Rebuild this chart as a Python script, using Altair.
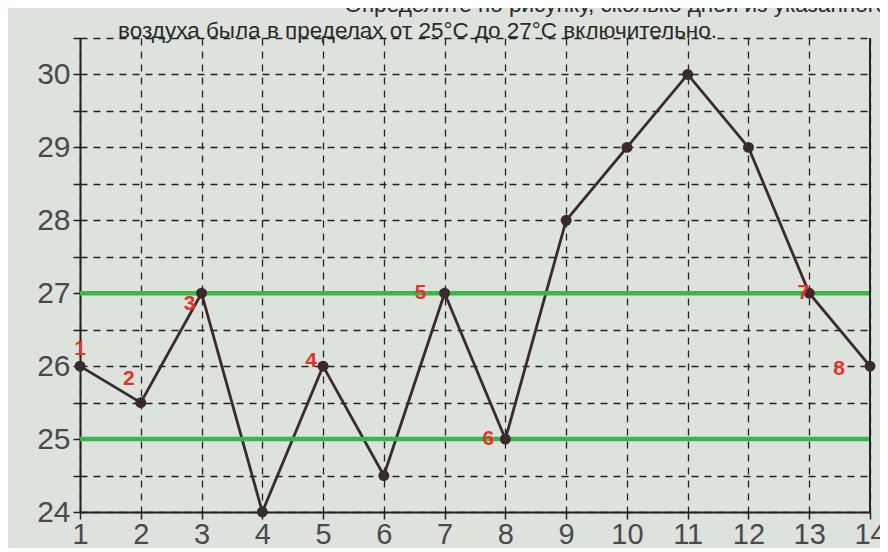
import altair as alt
import pandas as pd

# ---- data ----
days = [1, 2, 3, 4, 5, 6, 7, 8, 9, 10, 11, 12, 13, 14]
temps = [26, 25.5, 27, 24, 26, 24.5, 27, 25, 28, 29, 30, 29, 27, 26]
band_levels = [25, 27]
mark_numbers = ["1", "2", "3", "4", "5", "6", "7", "8"]
mark_days = [1, 2, 3, 5, 7, 8, 13, 14]
x_tick_values = [1, 2, 3, 4, 5, 6, 7, 8, 9, 10, 11, 12, 13, 14]
y_grid_values = [24, 24.5, 25, 25.5, 26, 26.5, 27, 27.5, 28, 28.5, 29, 29.5, 30, 30.5]
caption_line1 = "Определите по рисунку, сколько дней из указанного"
caption_line2 = "воздуха была в пределах от 25°C до 27°C включительно."

# ---- styles ----
BG = "#dde2dd"
INK = "#222222"
LINE = "#3a2a2c"
GREEN = "#3cb54a"
RED = "#e5332a"
FONT = "Liberation Sans Narrow, Liberation Sans, sans-serif"
label_offsets = [(0, -17), (-12, -24), (-12, 11), (-12, -5), (-24, 0), (-17, 0), (-6, 0), (-31, 3)]

W, H = 790, 474

df = pd.DataFrame({"day": days, "temp": temps})
temp_of = dict(zip(days, temps))
df_marks = pd.DataFrame({
    "day": mark_days,
    "temp": [temp_of[d] for d in mark_days],
    "num": mark_numbers,
})
df_bands = pd.DataFrame({"temp": band_levels})
df_right = pd.DataFrame({"day": [x_tick_values[-1]]})

xscale = alt.Scale(domain=[1, 14], nice=False, zero=False)
yscale = alt.Scale(domain=[24, 30.5], nice=False, zero=False)

x_axis = alt.Axis(
    values=x_tick_values, grid=True, gridDash=[7, 6], gridColor=INK, gridWidth=1.3,
    domainColor=INK, domainWidth=2, tickColor=INK, tickWidth=1.5, tickSize=7,
    labelFontSize=29, labelColor="#4a4a4a", labelFont=FONT, labelPadding=1,
    format="d", title=None, labelFlush=False,
)
y_axis = alt.Axis(
    values=y_grid_values, grid=True, gridDash=[7, 6], gridColor=INK, gridWidth=1.3,
    domainColor=INK, domainWidth=2, tickColor=INK, tickWidth=1.5, tickSize=7,
    labelFontSize=30, labelColor="#4a4a4a", labelFont=FONT, labelPadding=3,
    labelExpr="datum.value % 1 === 0 ? format(datum.value, 'd') : ''",
    title=None, labelFlush=False,
)

X = alt.X("day:Q", scale=xscale, axis=x_axis)
Y = alt.Y("temp:Q", scale=yscale, axis=y_axis)

line = alt.Chart(df).mark_line(color=LINE, strokeWidth=2.8).encode(x=X, y=Y)
points = alt.Chart(df).mark_circle(color=LINE, size=120, opacity=1).encode(x=X, y=Y)
bands = alt.Chart(df_bands).mark_rule(color=GREEN, strokeWidth=4.5).encode(y=Y)
right_border = alt.Chart(df_right).mark_rule(color=INK, strokeWidth=2).encode(x=X)

labels = []
for i, (dx, dy) in enumerate(label_offsets):
    labels.append(
        alt.Chart(df_marks.iloc[[i]]).mark_text(
            color=RED, fontSize=21, fontWeight="bold", font="Liberation Sans",
            dx=dx, dy=dy, align="center", baseline="middle",
        ).encode(x=X, y=Y, text="num:N")
    )

cap1 = alt.Chart(pd.DataFrame({"t": [caption_line1]})).mark_text(
    font=FONT, fontSize=22.5, color="#2a2a2a", align="right", baseline="alphabetic",
).encode(x=alt.value(808), y=alt.value(-26), text="t:N")
cap2 = alt.Chart(pd.DataFrame({"t": [caption_line2]})).mark_text(
    font=FONT, fontSize=22.5, color="#2a2a2a", align="left", baseline="alphabetic",
).encode(x=alt.value(38), y=alt.value(0), text="t:N")

chart = alt.layer(line, bands, right_border, points, *labels, cap1, cap2).properties(
    width=W, height=H,
    autosize=alt.AutoSizeParams(type="none"),
    padding={"left": 72, "right": 10, "top": 30, "bottom": 36},
    background=BG,
).configure_view(stroke=None)

chart.save("out.html", embed_options={"renderer": "svg", "actions": False})
